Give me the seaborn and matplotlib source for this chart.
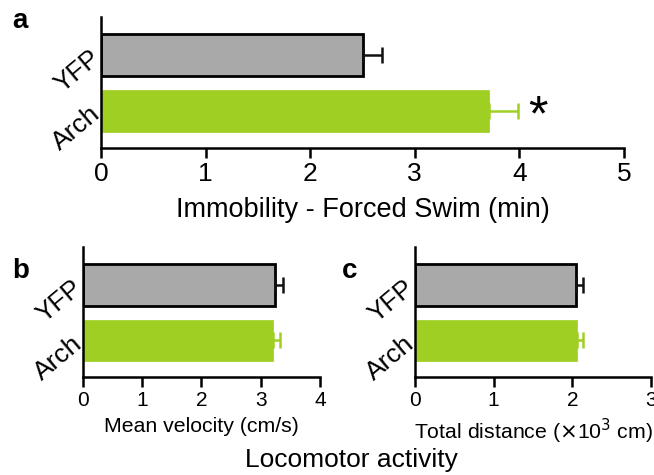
import numpy as np
import pandas as pd
import matplotlib
matplotlib.use("Agg")
import matplotlib.pyplot as plt
import seaborn as sns

# values
groups = ["YFP", "Arch"]
bar_colors = ["#a9a9a9", "#9fcf22"]
err_colors = ["#111111", "#9fcf22"]

immobility = [2.51, 3.71]
immobility_sem = [0.18, 0.28]

velocity = [3.24, 3.21]
velocity_sem = [0.14, 0.12]

distance = [2.05, 2.06]
distance_sem = [0.08, 0.08]

sns.set_theme(style="ticks")
plt.rcParams["font.family"] = ["Liberation Sans", "DejaVu Sans"]
plt.rcParams["text.color"] = "black"
plt.rcParams["xtick.color"] = "black"
plt.rcParams["ytick.color"] = "black"
plt.rcParams["axes.labelcolor"] = "black"


def bar_panel(ax, values, sems, xmax, xlabel, tick_fs, label_fs, ylab_fs, capsize, lpad):
    df = pd.DataFrame({"group": groups, "value": values})
    sns.barplot(data=df, x="value", y="group", hue="group", palette=bar_colors,
                orient="h", errorbar=None, width=0.75, saturation=1,
                legend=False, ax=ax)
    # grey bar gets black outline, green bar none
    for patch, col in zip(ax.patches, groups):
        if col == "YFP":
            patch.set_edgecolor("black")
            patch.set_linewidth(2.0)
        else:
            patch.set_edgecolor(bar_colors[1])
            patch.set_linewidth(0.5)
    for i, (v, s) in enumerate(zip(values, sems)):
        ax.errorbar(v, i, xerr=[[0], [s]], fmt="none", ecolor=err_colors[i],
                    elinewidth=1.8, capsize=capsize, capthick=1.8)
    ax.set_xlim(0, xmax)
    ax.set_ylim(1.66, -0.68)
    ax.set_xticks(range(xmax + 1))
    ax.set_xlabel(xlabel, fontsize=label_fs, labelpad=lpad)
    ax.set_ylabel("")
    ax.tick_params(axis="x", labelsize=tick_fs, width=1.8, length=7, pad=3)
    ax.tick_params(axis="y", length=0, labelsize=ylab_fs, pad=3)
    for lab in ax.get_yticklabels():
        lab.set_rotation(40)
        lab.set_ha("right")
        lab.set_va("center")
        lab.set_rotation_mode("anchor")
    sns.despine(ax=ax)
    for sp in ["left", "bottom"]:
        ax.spines[sp].set_linewidth(1.8)
        ax.spines[sp].set_color("black")


fig = plt.figure(figsize=(6.54, 4.75), dpi=100)
ax_a = fig.add_axes([0.1544, 0.6884, 0.7996, 0.2756])
ax_b = fig.add_axes([0.1269, 0.2063, 0.3624, 0.2737])
ax_c = fig.add_axes([0.6346, 0.2063, 0.3608, 0.2737])

bar_panel(ax_a, immobility, immobility_sem, 5, "Immobility - Forced Swim (min)",
          19, 19.5, 19, 6, 8)
ax_a.text(immobility[1] + immobility_sem[1] + 0.19, 1.12, "*", fontsize=36,
          ha="center", va="center", color="black")

bar_panel(ax_b, velocity, velocity_sem, 4, "Mean velocity (cm/s)", 15, 15.3, 19, 6, 5)
bar_panel(ax_c, distance, distance_sem, 3, r"Total distance ($\times$10$^3$ cm)",
          15, 15.3, 19, 6, 5)

fig.text(0.018, 0.955, "a", fontsize=20, fontweight="bold", ha="left", va="center")
fig.text(0.018, 0.43, "b", fontsize=20, fontweight="bold", ha="left", va="center")
fig.text(0.522, 0.43, "c", fontsize=20, fontweight="bold", ha="left", va="center")
fig.text(0.537, 0.032, "Locomotor activity", fontsize=19, ha="center", va="center")

fig.savefig("out.png", dpi=100)
